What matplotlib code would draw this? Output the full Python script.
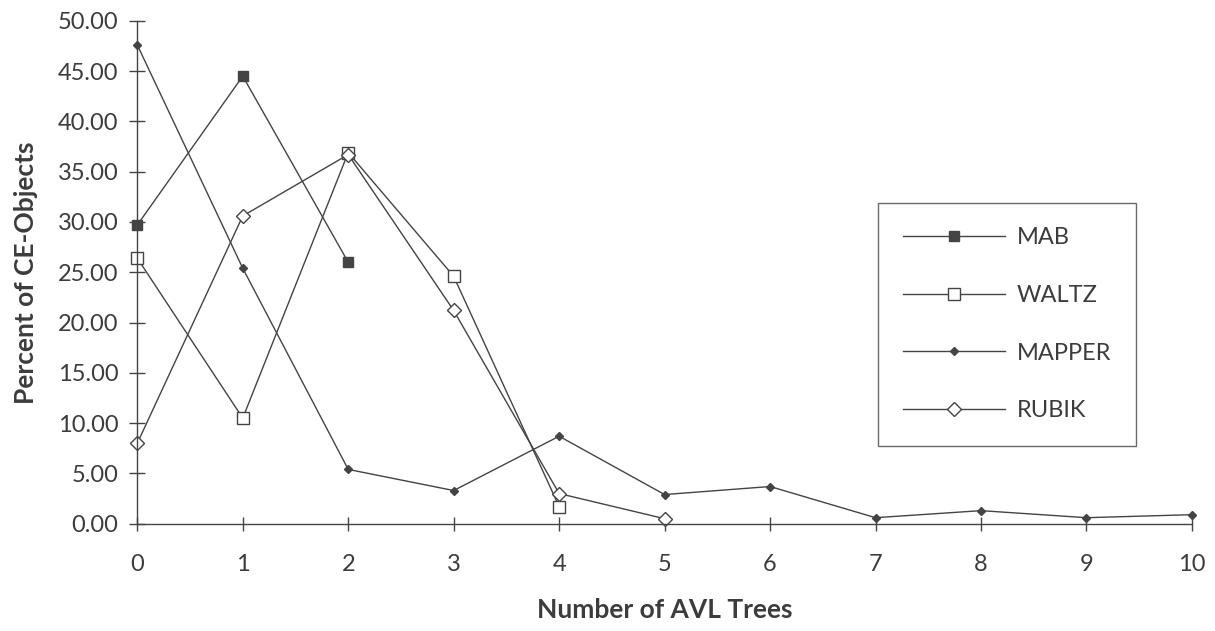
import matplotlib
matplotlib.use("Agg")
import matplotlib.pyplot as plt
from matplotlib.ticker import FormatStrFormatter

plt.rcParams['font.family'] = ['Lato', 'DejaVu Sans']

# values (percent of CE-objects per number of AVL trees)
mab_x = [0, 1, 2]
mab_y = [29.7, 44.5, 26.0]

waltz_x = [0, 1, 2, 3, 4]
waltz_y = [26.4, 10.5, 36.9, 24.6, 1.7]

mapper_x = [0, 1, 2, 3, 4, 5, 6, 7, 8, 9, 10]
mapper_y = [47.6, 25.4, 5.4, 3.3, 8.7, 2.9, 3.7, 0.6, 1.3, 0.6, 0.9]

rubik_x = [0, 1, 2, 3, 4, 5]
rubik_y = [8.0, 30.6, 36.7, 21.2, 3.0, 0.5]

line_col = "#444444"
text_col = "#3c3c3c"

fig = plt.figure(figsize=(12.15, 6.31), dpi=100)
ax = fig.add_axes([0.113, 0.170, 0.868, 0.797])

ax.plot(mab_x, mab_y, color=line_col, lw=1, marker="s", ms=7.5,
        mfc=line_col, mec=line_col, label="MAB")
ax.plot(waltz_x, waltz_y, color=line_col, lw=1, marker="s", ms=9,
        mfc="white", mec=line_col, mew=1, label="WALTZ")
ax.plot(mapper_x, mapper_y, color=line_col, lw=1, marker="D", ms=4.5,
        mfc=line_col, mec=line_col, label="MAPPER")
ax.plot(rubik_x, rubik_y, color=line_col, lw=1, marker="D", ms=7.5,
        mfc="white", mec=line_col, mew=1, label="RUBIK")

ax.set_xlim(0, 10)
ax.set_ylim(0, 50)
ax.set_xticks(range(0, 11))
ax.set_yticks(range(0, 51, 5))
ax.yaxis.set_major_formatter(FormatStrFormatter("%.2f"))

for s in ["top", "right"]:
    ax.spines[s].set_visible(False)
for s in ["left", "bottom"]:
    ax.spines[s].set_color(line_col)
    ax.spines[s].set_linewidth(1)
for ln in ax.lines:
    ln.set_clip_on(False)

ax.tick_params(axis="y", direction="inout", length=11, width=1, colors=line_col,
               labelsize=17, labelcolor=text_col, pad=8)
ax.tick_params(axis="x", direction="inout", length=10, width=1, colors=line_col,
               labelsize=17, labelcolor=text_col, pad=17)

ax.set_xlabel("Number of AVL Trees", fontsize=19, fontweight="bold",
              color=text_col, labelpad=16)
ax.set_ylabel("Percent of CE-Objects", fontsize=19, fontweight="bold",
              color=text_col, labelpad=14)

leg = ax.legend(loc="center", bbox_to_anchor=(0.723, 0.284, 0.212, 0.404),
                bbox_transform=fig.transFigure, mode="expand",
                fontsize=17, frameon=True, fancybox=False, handlelength=4.3,
                labelspacing=1.55, borderpad=1.05, handletextpad=0.5,
                borderaxespad=0)
leg.get_frame().set_edgecolor(line_col)
leg.get_frame().set_linewidth(1)
for t in leg.get_texts():
    t.set_color(text_col)

fig.savefig("out.png", dpi=100, facecolor="white")
